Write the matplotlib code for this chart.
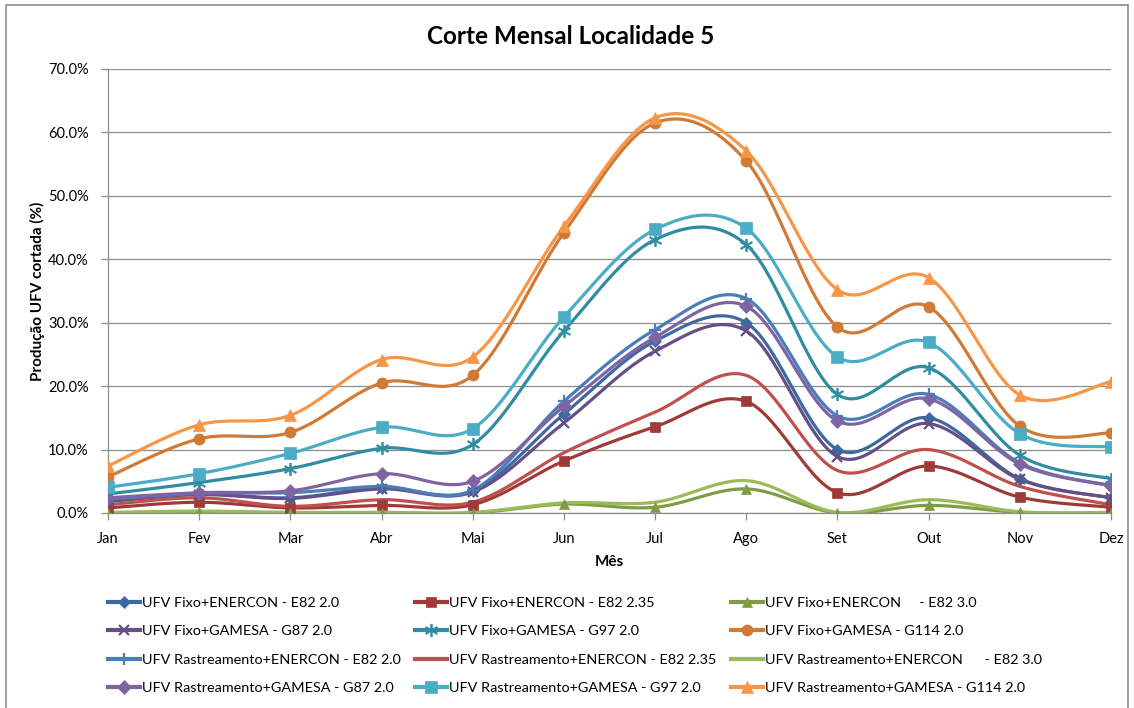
import numpy as np
import matplotlib
matplotlib.use('Agg')
import matplotlib.pyplot as plt
from matplotlib.patches import Rectangle

plt.rcParams['font.family'] = ['Lato', 'DejaVu Sans']

months = ['Jan', 'Fev', 'Mar', 'Abr', 'Mai', 'Jun', 'Jul', 'Ago', 'Set', 'Out', 'Nov', 'Dez']

labels = [
    'UFV Fixo+ENERCON - E82 2.0',
    'UFV Fixo+ENERCON - E82 2.35',
    'UFV Fixo+ENERCON     - E82 3.0',
    'UFV Fixo+GAMESA - G87 2.0',
    'UFV Fixo+GAMESA - G97 2.0',
    'UFV Fixo+GAMESA - G114 2.0',
    'UFV Rastreamento+ENERCON - E82 2.0',
    'UFV Rastreamento+ENERCON - E82 2.35',
    'UFV Rastreamento+ENERCON      - E82 3.0',
    'UFV Rastreamento+GAMESA - G87 2.0',
    'UFV Rastreamento+GAMESA - G97 2.0',
    'UFV Rastreamento+GAMESA - G114 2.0',
]

# produção cortada (%)
fixo_e82_20 = [2.1, 3.0, 2.4, 4.0, 3.5, 15.6, 27.1, 30.0, 10.0, 15.0, 5.4, 2.4]
fixo_e82_235 = [0.8, 1.7, 0.8, 1.2, 1.3, 8.2, 13.6, 17.6, 3.2, 7.4, 2.5, 0.9]
fixo_e82_30 = [0.0, 0.2, 0.0, 0.0, 0.0, 1.4, 0.9, 3.8, 0.0, 1.2, 0.1, 0.0]
fixo_g87 = [1.8, 2.9, 2.3, 3.8, 3.3, 14.2, 25.5, 28.7, 8.9, 14.1, 5.3, 2.4]
fixo_g97 = [3.0, 4.8, 7.0, 10.2, 10.8, 28.7, 43.1, 42.3, 18.7, 22.9, 9.1, 5.4]
fixo_g114 = [5.7, 11.7, 12.7, 20.5, 21.7, 44.2, 61.5, 55.5, 29.3, 32.5, 13.7, 12.6]
rast_e82_20 = [2.2, 3.1, 3.2, 4.2, 3.6, 17.6, 28.9, 33.8, 15.3, 18.7, 7.9, 4.3]
rast_e82_235 = [1.3, 2.4, 1.05, 2.1, 1.7, 9.5, 15.9, 21.7, 6.7, 10.0, 4.2, 1.3]
rast_e82_30 = [0.1, 0.3, 0.1, 0.1, 0.1, 1.6, 1.7, 5.1, 0.1, 2.1, 0.2, 0.1]
rast_g87 = [2.4, 3.2, 3.5, 6.2, 5.0, 16.8, 27.7, 32.6, 14.5, 18.0, 7.7, 4.3]
rast_g97 = [4.05, 6.2, 9.4, 13.5, 13.3, 30.9, 44.7, 44.9, 24.6, 26.9, 12.5, 10.4]
rast_g114 = [7.4, 13.9, 15.4, 24.2, 24.6, 45.2, 62.3, 57.1, 35.2, 37.1, 18.6, 20.7]

series = [fixo_e82_20, fixo_e82_235, fixo_e82_30, fixo_g87, fixo_g97, fixo_g114,
          rast_e82_20, rast_e82_235, rast_e82_30, rast_g87, rast_g97, rast_g114]

colors = ['#3D69A1', '#9E3B38', '#7E9C44', '#664F87', '#2F8CA3', '#D07A36',
          '#4A7EBB', '#C0504D', '#9BBB59', '#8064A2', '#4BACC6', '#F79646']
markers = ['D', 's', '^', 'x', '$*$', 'o', '+', None, None, 'D', 's', '^']
msizes = [6, 7, 7, 7, 9, 8, 9, 0, 0, 7, 8, 8]


def smooth(x, y, n=30):
    # curva suavizada tipo Excel (Bezier com pontos de controle Catmull-Rom)
    x = np.asarray(x, float)
    y = np.asarray(y, float)
    px = np.concatenate([[x[0]], x, [x[-1]]])
    py = np.concatenate([[y[0]], y, [y[-1]]])
    t = np.linspace(0, 1, n)
    xs, ys = [], []
    for i in range(len(x) - 1):
        p0 = np.array([px[i + 1], py[i + 1]])
        p3 = np.array([px[i + 2], py[i + 2]])
        c1 = p0 + (p3 - np.array([px[i], py[i]])) / 6
        c2 = p3 - (np.array([px[i + 3], py[i + 3]]) - p0) / 6
        b = ((1 - t) ** 3)[:, None] * p0 + (3 * (1 - t) ** 2 * t)[:, None] * c1 \
            + (3 * (1 - t) * t ** 2)[:, None] * c2 + (t ** 3)[:, None] * p3
        xs.append(b[:, 0])
        ys.append(b[:, 1])
    return np.concatenate(xs), np.concatenate(ys)


fig = plt.figure(figsize=(11.34, 7.08), dpi=100)
ax = fig.add_axes([108 / 1134, 1 - 513 / 708, (1111 - 108) / 1134, (513 - 69) / 708])

x = np.arange(len(months))
handles = []
for vals, c, m, ms, lab in zip(series, colors, markers, msizes, labels):
    sx, sy = smooth(x, vals)
    ax.plot(sx, sy, color=c, lw=2.3, solid_capstyle='round', zorder=2)
    if m is not None:
        mew = 1.6 if m in ('x', '+') else 0.5
        ax.plot(x, vals, ls='none', marker=m, ms=ms, color=c, mec=c, mew=mew, zorder=3)
    h, = ax.plot([], [], color=c, lw=3, marker=m if m else None, ms=ms, mec=c,
                 mew=1.6 if m in ('x', '+') else 0.5)
    handles.append(h)

ax.set_xlim(0, 11)
ax.set_ylim(0, 70)
ax.set_yticks(np.arange(0, 71, 10))
ax.set_yticklabels([f'{v:.1f}%' for v in range(0, 71, 10)], fontsize=10.5)
ax.set_xticks(x)
ax.set_xticklabels(months, fontsize=10.5)
ax.yaxis.grid(True, color='#8C8C8C', lw=0.9)
ax.set_axisbelow(True)
for s in ['top', 'right']:
    ax.spines[s].set_visible(False)
for s in ['left', 'bottom']:
    ax.spines[s].set_color('#8C8C8C')
    ax.spines[s].set_linewidth(0.9)
ax.tick_params(axis='both', color='#8C8C8C', length=5, width=0.9)
ax.tick_params(axis='y', pad=9)
ax.tick_params(axis='x', pad=9)

fig.text(0.503, 1 - 36 / 708, 'Corte Mensal Localidade 5', ha='center', va='center',
         fontsize=17.5, fontweight='bold')
ax.set_xlabel('Mês', fontsize=11, fontweight='bold', labelpad=6)
ax.set_ylabel('Produção UFV cortada (%)', fontsize=11, fontweight='bold', labelpad=2)

# legenda em 3 colunas, preenchida por linha
col_order = [0, 3, 6, 9, 1, 4, 7, 10, 2, 5, 8, 11]
leg = fig.legend([handles[i] for i in col_order], [labels[i] for i in col_order],
                 ncol=3, loc='upper left', bbox_to_anchor=(108 / 1134, 1 - 597 / 708),
                 frameon=False, fontsize=10.4, handlelength=2.2, handletextpad=0.15,
                 columnspacing=1.0, labelspacing=1.12, borderaxespad=0, borderpad=0)

fig.patches.append(Rectangle((6 / 1134, -0.02), (1128 - 6) / 1134, 1 - 5 / 708 + 0.02,
                             transform=fig.transFigure, fill=False, ec='#8C8C8C', lw=1.2))

fig.savefig('out.png', dpi=100, facecolor='white')
